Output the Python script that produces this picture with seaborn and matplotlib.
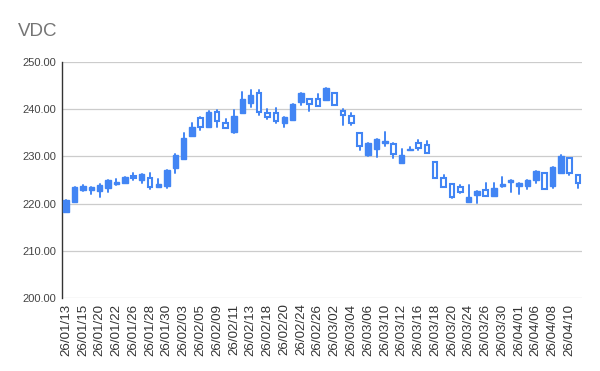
import matplotlib
matplotlib.use("Agg")
import matplotlib.pyplot as plt
import seaborn as sns
import pandas as pd
import numpy as np

dates = ["26/01/13", "26/01/14", "26/01/15", "26/01/16", "26/01/20", "26/01/21", "26/01/22", "26/01/23",
         "26/01/26", "26/01/27", "26/01/28", "26/01/29", "26/01/30", "26/02/02", "26/02/03", "26/02/04",
         "26/02/05", "26/02/06", "26/02/09", "26/02/10", "26/02/11", "26/02/12", "26/02/13", "26/02/17",
         "26/02/18", "26/02/19", "26/02/20", "26/02/23", "26/02/24", "26/02/25", "26/02/26", "26/02/27",
         "26/03/02", "26/03/03", "26/03/04", "26/03/05", "26/03/06", "26/03/09", "26/03/10", "26/03/11",
         "26/03/12", "26/03/13", "26/03/16", "26/03/17", "26/03/18", "26/03/19", "26/03/20", "26/03/23",
         "26/03/24", "26/03/25", "26/03/26", "26/03/27", "26/03/30", "26/03/31", "26/04/01", "26/04/03",
         "26/04/06", "26/04/07", "26/04/08", "26/04/09", "26/04/10", "26/04/13"]

open_ = [218.2, 220.3, 222.9, 222.9, 222.6, 223.2, 224.1, 224.4, 225.9, 225.0, 225.5, 223.6, 223.7, 227.5,
         229.4, 234.3, 238.1, 236.2, 239.3, 237.1, 235.2, 239.1, 241.4, 243.5, 239.1, 239.1, 237.0, 237.7,
         241.6, 242.2, 242.2, 242.0, 243.4, 239.6, 238.6, 235.0, 230.3, 231.6, 232.8, 232.6, 228.5, 231.4,
         232.8, 232.4, 228.9, 225.4, 224.2, 223.5, 220.4, 221.8, 222.9, 221.7, 223.7, 224.5, 223.7, 223.7,
         224.9, 226.5, 223.7, 226.4, 229.6, 226.1]
high = [220.8, 223.5, 224.0, 223.5, 224.2, 225.0, 225.2, 225.7, 226.5, 226.2, 226.4, 225.2, 227.1, 230.5,
        234.9, 237.1, 238.4, 239.7, 239.8, 237.9, 239.8, 243.7, 244.1, 244.1, 240.0, 240.2, 238.3, 241.2,
        243.4, 242.2, 243.2, 244.4, 243.4, 240.0, 239.1, 235.0, 232.9, 233.6, 235.2, 232.8, 231.5, 232.0,
        233.5, 233.3, 228.9, 226.1, 224.2, 224.0, 224.0, 222.7, 224.3, 224.4, 225.7, 225.0, 224.3, 225.1,
        227.0, 226.5, 227.8, 230.2, 229.6, 226.1]
low = [218.2, 220.3, 222.6, 222.1, 221.5, 222.5, 223.9, 224.4, 224.9, 224.3, 223.0, 223.6, 223.2, 226.5,
       229.4, 234.3, 235.6, 236.2, 236.3, 236.0, 234.9, 239.1, 240.5, 238.8, 237.9, 237.1, 236.3, 237.7,
       240.9, 239.7, 240.7, 242.0, 240.9, 236.7, 236.7, 231.4, 230.0, 229.9, 232.1, 229.6, 228.5, 231.4,
       231.4, 230.7, 225.4, 223.5, 221.1, 222.3, 220.4, 220.2, 221.6, 221.7, 223.5, 222.5, 222.0, 223.0,
       224.3, 223.0, 223.4, 226.4, 226.1, 223.3]
close = [220.8, 223.5, 223.7, 223.5, 224.0, 224.9, 224.6, 225.7, 225.4, 226.2, 223.5, 224.1, 227.1, 230.3,
         233.8, 236.3, 236.3, 239.5, 237.4, 236.0, 238.6, 242.1, 243.0, 239.3, 238.3, 237.6, 238.3, 241.2,
         243.4, 241.1, 240.7, 244.4, 240.9, 238.8, 237.1, 232.2, 232.9, 233.6, 233.2, 230.5, 230.3, 231.6,
         231.7, 230.8, 225.4, 223.6, 221.5, 222.5, 221.5, 222.7, 221.6, 223.4, 224.2, 225.0, 224.3, 225.1,
         227.0, 223.0, 227.8, 230.0, 226.4, 224.3]

yticks = [200, 210, 220, 230, 240, 250]

BLUE = "#4285F4"

sns.set_theme(style="white")
plt.rcParams['font.family'] = ['Liberation Sans', 'DejaVu Sans']

df = pd.DataFrame({"date": dates, "open": open_, "high": high, "low": low, "close": close})
df["idx"] = np.arange(len(df))
df["up"] = df["close"] >= df["open"]

fig = plt.figure(figsize=(6, 3.71), dpi=100)
ax = fig.add_axes([0.1033, 0.1968, 0.8667, 0.6361])

# wicks via seaborn lineplot (one unit per candle)
wick = pd.concat([df[["idx", "high"]].rename(columns={"high": "price"}),
                  df[["idx", "low"]].rename(columns={"low": "price"})])
sns.lineplot(data=wick, x="idx", y="price", units="idx", estimator=None,
             color=BLUE, lw=1.4, ax=ax, zorder=2, legend=False)

# bodies
width = 0.64
up = df[df["up"]]
dn = df[~df["up"]]
ax.bar(up["idx"], (up["close"] - up["open"]).clip(lower=0.15), bottom=up["open"], width=width,
       color=BLUE, edgecolor=BLUE, linewidth=1.0, zorder=3)
ax.bar(dn["idx"], (dn["open"] - dn["close"]).clip(lower=0.15), bottom=dn["close"], width=width - 0.1,
       color="white", edgecolor=BLUE, linewidth=1.5, zorder=3)

ax.set_xlim(-0.5, len(df) - 0.5)
ax.set_ylim(200, 250)
ax.set_yticks(yticks)
ax.set_yticklabels([f"{v:.2f}" for v in yticks], fontsize=8, color="#444444")
ax.set_xticks(df["idx"][::2])
ax.set_xticklabels(df["date"][::2], rotation=90, fontsize=9.6, color="#333333")
ax.set_xlabel("")
ax.set_ylabel("")
ax.grid(axis="y", color="#cccccc", lw=0.9)
ax.set_axisbelow(True)
for s in ["top", "right", "bottom"]:
    ax.spines[s].set_visible(False)
ax.spines["left"].set_color("#333333")
ax.spines["left"].set_linewidth(1.0)
ax.tick_params(axis="both", length=0, pad=4)

fig.text(0.03, 0.915, "VDC", fontsize=13.5, color="#757575", ha="left", va="center")

fig.savefig("out.png", dpi=100, facecolor="white")
